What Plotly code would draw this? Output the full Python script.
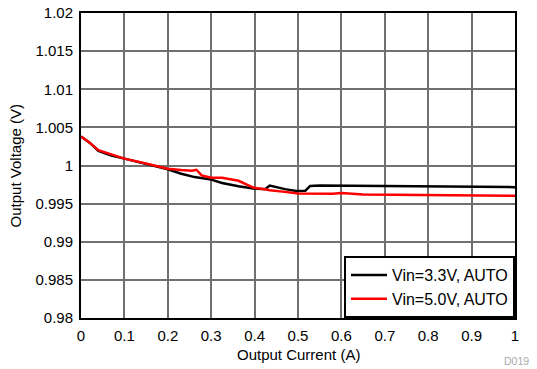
import plotly.graph_objects as go

# Output current (A) / output voltage (V)
x_33 = [0, 0.02, 0.04, 0.07, 0.1, 0.147, 0.2, 0.231, 0.262, 0.3, 0.325, 0.363, 0.397,
        0.424, 0.435, 0.47, 0.496, 0.517, 0.528, 0.55, 0.6, 0.7, 0.8, 0.9, 1.0]
v_33 = [1.0038, 1.0030, 1.0019, 1.0013, 1.0009, 1.0002, 0.9995, 0.99892, 0.99848, 0.99815,
        0.9977, 0.99728, 0.99698, 0.99689, 0.99737, 0.9969, 0.99667, 0.9967, 0.99732,
        0.99737, 0.99735, 0.9973, 0.99727, 0.9972, 0.99716]

x_50 = [0, 0.02, 0.04, 0.07, 0.1, 0.147, 0.2, 0.231, 0.255, 0.266, 0.278, 0.3, 0.325,
        0.363, 0.397, 0.424, 0.435, 0.47, 0.5, 0.58, 0.6, 0.65, 0.7, 0.8, 0.9, 1.0]
v_50 = [1.0038, 1.0030, 1.0020, 1.0015, 1.0009, 1.0003, 0.99957, 0.9994, 0.9993, 0.99944,
        0.9987, 0.9984, 0.9984, 0.998, 0.99711, 0.99689, 0.99676, 0.99654, 0.99633,
        0.9963, 0.9964, 0.9962, 0.99617, 0.9961, 0.99605, 0.99603]

x_ticks = [0, 0.1, 0.2, 0.3, 0.4, 0.5, 0.6, 0.7, 0.8, 0.9, 1]
x_labels = ['0', '0.1', '0.2', '0.3', '0.4', '0.5', '0.6', '0.7', '0.8', '0.9', '1']
y_ticks = [0.98, 0.985, 0.99, 0.995, 1.0, 1.005, 1.01, 1.015, 1.02]
y_labels = ['0.98', '0.985', '0.99', '0.995', '1', '1.005', '1.01', '1.015', '1.02']

fig = go.Figure()
fig.add_trace(go.Scatter(x=x_33, y=v_33, mode='lines', name='Vin=3.3V, AUTO',
                         line=dict(color='black', width=2.5)))
fig.add_trace(go.Scatter(x=x_50, y=v_50, mode='lines', name='Vin=5.0V, AUTO',
                         line=dict(color='#ff0000', width=2.5)))

axis_common = dict(showline=True, linecolor='black', linewidth=2, mirror=True,
                   showgrid=True, gridcolor='#707070', gridwidth=1.5, zeroline=False,
                   ticks='', automargin=False, ticklabelstandoff=3,
                   ticklabeloverflow='allow',
                   tickfont=dict(size=15, color='black'))

fig.update_xaxes(range=[0, 1], tickvals=x_ticks, ticktext=x_labels, **axis_common)
fig.update_yaxes(range=[0.98, 1.02], tickvals=y_ticks, ticktext=y_labels, **axis_common)

# axis titles placed as annotations so their position is exact
fig.add_annotation(text='Output Current (A)', xref='paper', yref='paper', x=0.5, y=-0.121,
                   xanchor='center', yanchor='middle', showarrow=False,
                   font=dict(size=15, color='black'))
fig.add_annotation(text='Output Voltage (V)', xref='paper', yref='paper', x=-0.150, y=0.5,
                   xanchor='center', yanchor='middle', showarrow=False, textangle=-90,
                   font=dict(size=15, color='black'))

# figure id tag, bottom right
fig.add_annotation(text='D019', xref='paper', yref='paper', x=0.970, y=-0.142,
                   xanchor='left', yanchor='middle', showarrow=False,
                   font=dict(size=10.5, color='#aaaaaa'))

# the page body adds an 8px margin, so the figure is 8px smaller on each side
fig.update_layout(
    width=529, height=361,
    margin=dict(l=73, r=22, t=5, b=51),
    paper_bgcolor='white', plot_bgcolor='white',
    font=dict(family='Arial, Liberation Sans, sans-serif', color='black'),
    legend=dict(x=1, y=0, xanchor='right', yanchor='bottom', bgcolor='white',
                bordercolor='black', borderwidth=2, font=dict(size=16),
                itemwidth=36, tracegroupgap=0),
)

fig.write_html("out.html")
